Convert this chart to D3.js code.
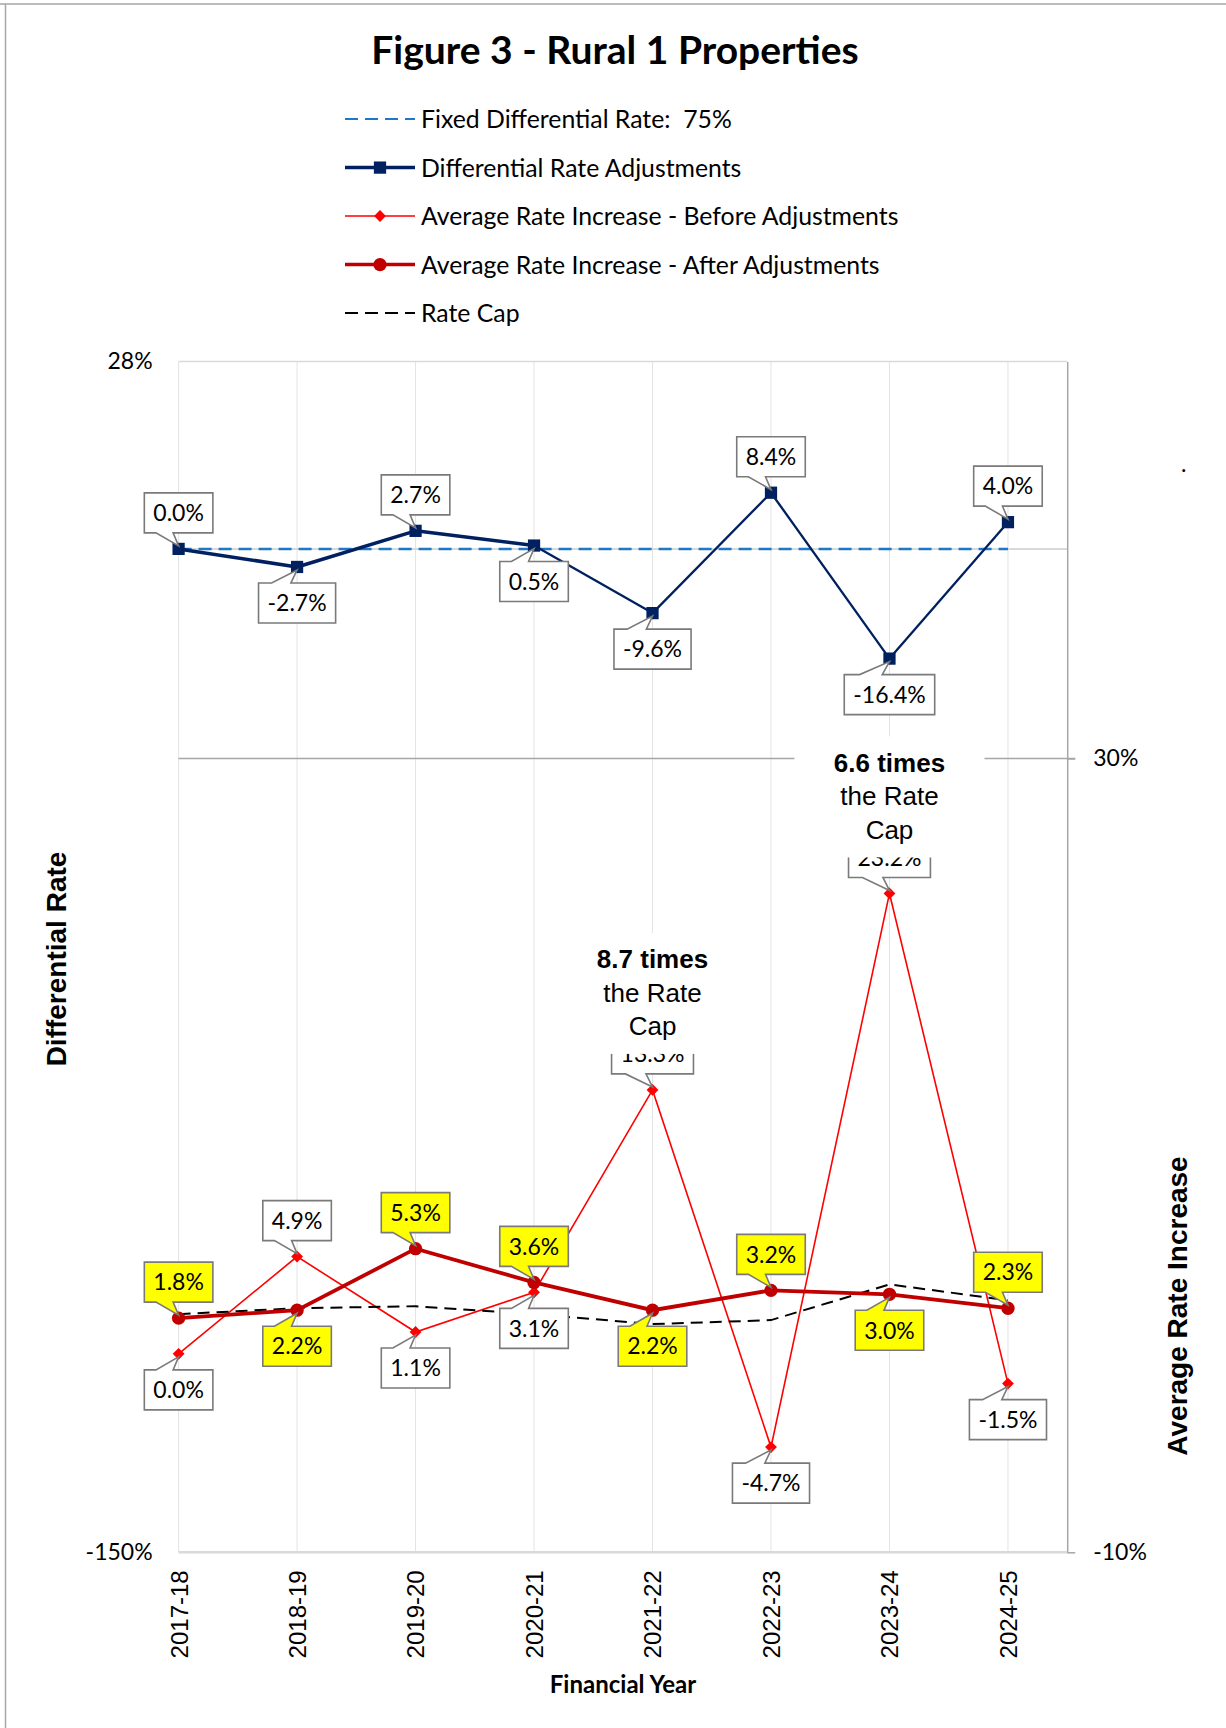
<!DOCTYPE html>
<html lang="en">
<head>
<meta charset="UTF-8">
<title>Figure 3 - Rural 1 Properties</title>
<script src="https://cdn.jsdelivr.net/npm/d3@7/dist/d3.min.js"></script>
<style>
  body { margin: 0; background: #fff; }
  svg { display: block; }
</style>
</head>
<body>
<svg id="chart" width="1226" height="1728"></svg>
<script>
// ---- data ----
var years = ["2017-18", "2018-19", "2019-20", "2020-21", "2021-22", "2022-23", "2023-24", "2024-25"];
var fixedDiff = [0, 0, 0, 0, 0, 0, 0, 0];
var diffAdjust = [0.0, -2.7, 2.7, 0.5, -9.6, 8.4, -16.4, 4.0];
var beforeAdj = [0.0, 4.9, 1.1, 3.1, 13.3, -4.7, 23.2, -1.5];
var afterAdj = [1.8, 2.2, 5.3, 3.6, 2.2, 3.2, 3.0, 2.3];
var rateCap = [2.0, 2.3, 2.4, 2.0, 1.5, 1.7, 3.5, 2.7];
// which side of the point each data label sits: 1 = above, -1 = below
var diffSide = [1, -1, 1, -1, -1, 1, -1, 1];
var beforeSide = [-1, 1, -1, -1, 1, -1, 1, -1];
var afterSide = [1, -1, 1, 1, -1, 1, -1, 1];
var leftTicks = [28, -150];
var rightTicks = [30, -10];
var notes = [
  {year: "2021-22", lines: ["8.7 times", "the Rate", "Cap"]},
  {year: "2023-24", lines: ["6.6 times", "the Rate", "Cap"]}
];
var legendItems = [
  "Fixed Differential Rate:  75%",
  "Differential Rate Adjustments",
  "Average Rate Increase - Before Adjustments",
  "Average Rate Increase - After Adjustments",
  "Rate Cap"
];

// ---- layout ----
var calibri = "Lato, 'Liberation Sans', sans-serif";
var arial = "'Liberation Sans', Arial, sans-serif";
var plot = {left: 178.6, right: 1067.2, top: 361.6, bottom: 1552.3};
var step = (plot.right - plot.left) / (years.length - 0.5);

var svg = d3.select("#chart");

var x = d3.scalePoint().domain(years).range([plot.left, plot.left + step * (years.length - 1)]);
var yL = d3.scaleLinear().domain([-150, 28]).range([plot.bottom, plot.top]);
var yR = d3.scaleLinear().domain([-10, 50]).range([plot.bottom, plot.top]);

// outer frame (only top and left edges show)
svg.append("line").attr("x1", 0).attr("x2", 1226).attr("y1", 4).attr("y2", 4)
  .attr("stroke", "#a6a6a6").attr("stroke-width", 1.5);
svg.append("line").attr("x1", 5.5).attr("x2", 5.5).attr("y1", 4).attr("y2", 1728)
  .attr("stroke", "#a6a6a6").attr("stroke-width", 1.5);

// title
svg.append("text").attr("x", 615).attr("y", 64).attr("text-anchor", "middle")
  .style("font-family", calibri).style("font-weight", "bold").style("font-size", "39px")
  .text("Figure 3 - Rural 1 Properties");

// ---- gridlines ----
var grid = svg.append("g");
grid.selectAll("line.v").data(years).enter().append("line")
  .attr("x1", d => x(d)).attr("x2", d => x(d))
  .attr("y1", plot.top).attr("y2", plot.bottom)
  .attr("stroke", "#e3e3e3").attr("stroke-width", 1);
grid.append("line").attr("x1", plot.left).attr("x2", plot.right)
  .attr("y1", plot.top).attr("y2", plot.top)
  .attr("stroke", "#d9d9d9").attr("stroke-width", 1.5);
// primary horizontal axis crossing at 0
grid.append("line").attr("x1", plot.left).attr("x2", plot.right)
  .attr("y1", yL(0)).attr("y2", yL(0))
  .attr("stroke", "#d9d9d9").attr("stroke-width", 2);
grid.append("line").attr("x1", plot.left).attr("x2", plot.right + 8)
  .attr("y1", yR(30)).attr("y2", yR(30))
  .attr("stroke", "#a6a6a6").attr("stroke-width", 1.5);

// ---- axes ----
var axL = svg.append("g").attr("transform", "translate(" + plot.left + ",0)")
  .call(d3.axisLeft(yL).tickValues(leftTicks).tickSize(0).tickPadding(26).tickFormat(d => d + "%"));
axL.select(".domain").remove();
axL.selectAll("text").style("font-family", calibri).style("font-size", "23px").attr("fill", "#000");

var axR = svg.append("g").attr("transform", "translate(" + plot.right + ",0)")
  .call(d3.axisRight(yR).tickValues(rightTicks).tickSizeInner(8).tickSizeOuter(0).tickPadding(18).tickFormat(d => d + "%"));
axR.select(".domain").attr("stroke", "#a6a6a6").attr("stroke-width", 1.5);
axR.selectAll(".tick line").attr("stroke", "#a6a6a6").attr("stroke-width", 1.5);
axR.selectAll("text").style("font-family", calibri).style("font-size", "23px").attr("fill", "#000");

var axB = svg.append("g").attr("transform", "translate(0," + plot.bottom + ")")
  .call(d3.axisBottom(x).tickSize(0).tickPadding(0));
axB.select(".domain").attr("d", "M" + plot.left + ",0H" + plot.right)
  .attr("stroke", "#d9d9d9").attr("stroke-width", 2.5);
axB.selectAll("text")
  .attr("transform", "rotate(-90)")
  .attr("x", -18).attr("y", 0).attr("dy", "0.35em")
  .attr("text-anchor", "end")
  .style("font-family", arial).style("font-size", "24px").attr("fill", "#000");

// axis titles
svg.append("text").attr("transform", "translate(66,959) rotate(-90)")
  .attr("text-anchor", "middle")
  .style("font-family", arial).style("font-weight", "bold").style("font-size", "28px")
  .text("Differential Rate");
svg.append("text").attr("transform", "translate(1187,1306) rotate(-90)")
  .attr("text-anchor", "middle")
  .style("font-family", arial).style("font-weight", "bold").style("font-size", "28px")
  .text("Average Rate Increase");
svg.append("text").attr("x", 623).attr("y", 1693).attr("text-anchor", "middle")
  .style("font-family", calibri).style("font-weight", "bold").style("font-size", "24px")
  .text("Financial Year");
// stray dot in the original
svg.append("text").attr("x", 1181).attr("y", 472)
  .style("font-family", calibri).style("font-size", "23px").text(".");

// ---- series ----
var lineL = d3.line().x((d, i) => x(years[i])).y(d => yL(d));
var lineR = d3.line().x((d, i) => x(years[i])).y(d => yR(d));

svg.append("path").attr("d", lineL(fixedDiff)).attr("fill", "none")
  .attr("stroke", "#1f77c8").attr("stroke-width", 2.5).attr("stroke-dasharray", "13,7");

// differential adjustments: first three segments drawn heavier
var segs = d3.pairs(diffAdjust.map((v, i) => [x(years[i]), yL(v)]));
svg.selectAll("line.diffseg").data(segs).enter().append("line")
  .attr("x1", d => d[0][0]).attr("y1", d => d[0][1])
  .attr("x2", d => d[1][0]).attr("y2", d => d[1][1])
  .attr("stroke", "#002060").attr("stroke-width", (d, i) => i < 3 ? 3.5 : 2.3);
svg.selectAll("path.sq").data(diffAdjust).enter().append("path")
  .attr("d", d3.symbol(d3.symbolSquare, 150))
  .attr("transform", (d, i) => "translate(" + x(years[i]) + "," + yL(d) + ")")
  .attr("fill", "#002060");

svg.append("path").attr("d", lineR(beforeAdj)).attr("fill", "none")
  .attr("stroke", "#ff0000").attr("stroke-width", 1.6);
svg.selectAll("path.dia").data(beforeAdj).enter().append("path")
  .attr("d", d3.symbol(d3.symbolSquare, 70))
  .attr("transform", (d, i) => "translate(" + x(years[i]) + "," + yR(d) + ") rotate(45)")
  .attr("fill", "#ff0000");

svg.append("path").attr("d", lineR(rateCap)).attr("fill", "none")
  .attr("stroke", "#000").attr("stroke-width", 2).attr("stroke-dasharray", "12,7");

svg.append("path").attr("d", lineR(afterAdj)).attr("fill", "none")
  .attr("stroke", "#c00000").attr("stroke-width", 3.8);
svg.selectAll("path.dot").data(afterAdj).enter().append("path")
  .attr("d", d3.symbol(d3.symbolCircle, 140))
  .attr("transform", (d, i) => "translate(" + x(years[i]) + "," + yR(d) + ")")
  .attr("fill", "#c00000");

// ---- callout data labels ----
var labels = svg.append("g");
function callout(cx, py, side, txt, fill) {
  var g = labels.append("g");
  var t = g.append("text").attr("x", cx).attr("text-anchor", "middle")
    .style("font-family", calibri).style("font-size", "23px").text(txt);
  var w = t.node().getComputedTextLength() + 18, h = 40, gap = 16;
  var l = cx - w / 2, r = cx + w / 2;
  var top = side > 0 ? py - gap - h : py + gap;
  var bot = top + h;
  var b1 = cx - 0.33 * w, b2 = cx - 0.08 * w;
  var d = side > 0
    ? "M" + l + "," + top + "H" + r + "V" + bot + "H" + b2 + "L" + cx + "," + (py - 3) + "L" + b1 + "," + bot + "H" + l + "Z"
    : "M" + l + "," + top + "H" + b1 + "L" + cx + "," + (py + 3) + "L" + b2 + "," + top + "H" + r + "V" + bot + "H" + l + "Z";
  g.insert("path", "text").attr("d", d).attr("fill", fill)
    .attr("stroke", "#7a7a7a").attr("stroke-width", 1.6).attr("stroke-linejoin", "miter");
  t.attr("y", top + h / 2).attr("dy", "0.36em");
}
diffAdjust.forEach((v, i) => callout(x(years[i]), yL(v), diffSide[i], v.toFixed(1) + "%", "#fff"));
beforeAdj.forEach((v, i) => callout(x(years[i]), yR(v), beforeSide[i], v.toFixed(1) + "%", "#fff"));
afterAdj.forEach((v, i) => callout(x(years[i]), yR(v), afterSide[i], v.toFixed(1) + "%", "#ffff00"));

// ---- "times the rate cap" notes ----
notes.forEach(function(n) {
  var i = years.indexOf(n.year);
  var cx = x(n.year), py = yR(beforeAdj[i]);
  svg.append("rect").attr("x", cx - 95).attr("y", py - 157).attr("width", 190).attr("height", 121)
    .attr("fill", "#fff");
  n.lines.forEach(function(s, k) {
    svg.append("text").attr("x", cx).attr("y", py - 131 + k * 33.5).attr("dy", "0.36em")
      .attr("text-anchor", "middle")
      .style("font-family", arial).style("font-size", "26px")
      .style("font-weight", k === 0 ? "bold" : "normal")
      .text(s);
  });
});

// ---- legend ----
var leg = svg.append("g");
var legY = [119, 167.6, 216, 264.6, 313];
var lx1 = 345, lx2 = 415;
legendItems.forEach(function(s, i) {
  var y = legY[i];
  leg.append("text").attr("x", 421).attr("y", y).attr("dy", "0.36em")
    .style("font-family", calibri).style("font-size", "24.8px").style("white-space", "pre").text(s);
});
leg.append("line").attr("x1", lx1).attr("x2", lx2).attr("y1", legY[0]).attr("y2", legY[0])
  .attr("stroke", "#1f77c8").attr("stroke-width", 2).attr("stroke-dasharray", "13,7");
leg.append("line").attr("x1", lx1).attr("x2", lx2).attr("y1", legY[1]).attr("y2", legY[1])
  .attr("stroke", "#002060").attr("stroke-width", 3.5);
leg.append("path").attr("d", d3.symbol(d3.symbolSquare, 150))
  .attr("transform", "translate(" + (lx1 + lx2) / 2 + "," + legY[1] + ")").attr("fill", "#002060");
leg.append("line").attr("x1", lx1).attr("x2", lx2).attr("y1", legY[2]).attr("y2", legY[2])
  .attr("stroke", "#ff0000").attr("stroke-width", 1.6);
leg.append("path").attr("d", d3.symbol(d3.symbolSquare, 70))
  .attr("transform", "translate(" + (lx1 + lx2) / 2 + "," + legY[2] + ") rotate(45)").attr("fill", "#ff0000");
leg.append("line").attr("x1", lx1).attr("x2", lx2).attr("y1", legY[3]).attr("y2", legY[3])
  .attr("stroke", "#c00000").attr("stroke-width", 3.5);
leg.append("path").attr("d", d3.symbol(d3.symbolCircle, 140))
  .attr("transform", "translate(" + (lx1 + lx2) / 2 + "," + legY[3] + ")").attr("fill", "#c00000");
leg.append("line").attr("x1", lx1).attr("x2", lx2).attr("y1", legY[4]).attr("y2", legY[4])
  .attr("stroke", "#000").attr("stroke-width", 2).attr("stroke-dasharray", "13,7");
</script>
</body>
</html>
